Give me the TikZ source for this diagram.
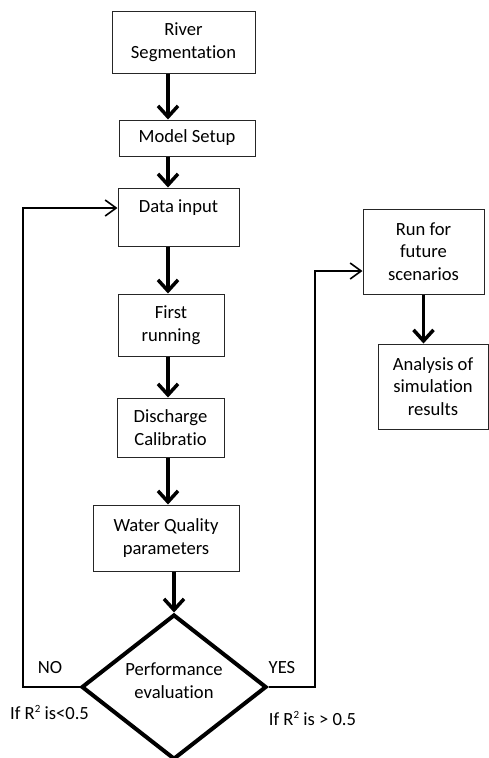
\documentclass[tikz,border=0pt]{standalone}
\usepackage{fontspec}
\setmainfont[Ligatures=NoCommon]{Carlito}
\usetikzlibrary{arrows.meta,shapes.geometric}
\newcommand{\sqr}{\raisebox{7pt}{\fontsize{11}{11}\selectfont 2}}
\tikzset{
  stepbox/.style={draw=black!85,line width=1pt,rectangle,align=center,inner sep=0pt,font=\fontsize{18.6}{22.5}\selectfont},
  decide/.style={draw,diamond,line width=4pt,align=center,inner sep=0pt,minimum width=185pt,minimum height=141pt,font=\fontsize{18.6}{22.5}\selectfont},
  lab/.style={inner sep=0pt,font=\fontsize{18.6}{22.5}\selectfont},
  flow/.style={-{Straight Barb[length=11pt,width=20pt]},line width=3.5pt},
  back/.style={-{Straight Barb[length=11pt,width=16pt]},line width=1.6pt}
}

\begin{document}
\begin{tikzpicture}[x=1pt,y=-1pt]
\useasboundingbox (0,0) rectangle (488,758);

% main column
\node[stepbox,minimum width=143pt,minimum height=62pt] (river) at (183.5,42) {River\\Segmentation};
\node[stepbox,minimum width=136pt,minimum height=36pt] (model) at (187,138) {Model Setup};
\node[stepbox,minimum width=121pt,minimum height=58pt] (datain) at (178.5,217) {Data input\\~};
\node[stepbox,minimum width=106pt,minimum height=62pt] (first) at (171,325) {First\\running};
\node[stepbox,minimum width=107pt,minimum height=59pt] (disch) at (170.5,427.5) {Discharge\\Calibratio};
\node[stepbox,minimum width=146pt,minimum height=66pt] (wq) at (166,538) {Water Quality\\parameters};
\node[decide] (perf) at (174,687) {Performance\\evaluation\\[-10pt]~};

% right column
\node[stepbox,minimum width=121pt,minimum height=85pt] (run) at (423.5,251.5) {Run for\\future\\scenarios};
\node[stepbox,minimum width=110pt,minimum height=85pt] (anal) at (433,386.5) {Analysis of\\simulation\\results};

% labels
\node[lab] (no) at (50,668) {NO};
\node[lab] (yes) at (282,668) {YES};
\node[lab] (ifno) at (49.5,712) {If R\sqr{} is<0.5};
\node[lab] (ifyes) at (312.5,718) {If R\sqr{} is > 0.5};

\coordinate (spine) at (168,0);
\coordinate (noturn) at (23,687);
\coordinate (yesturn) at (315,687);

\draw[flow] (river.south -| spine) -- (model.north -| spine);
\draw[flow] (model.south -| spine) -- (datain.north -| spine);
\draw[flow] (datain.south -| spine) -- (first.north -| spine);
\draw[flow] (first.south -| spine) -- (disch.north -| spine);
\draw[flow] (disch.south -| spine) -- (wq.north -| spine);
\draw[flow] (wq.south -| perf) -- (perf.north);
\draw[flow] (run.south) -- (run.south |- anal.north);

\draw[back] (perf.west) -- (noturn) |- ([yshift=9pt]datain.west);
\draw[back] (perf.east) -- (yesturn) |- ([yshift=-19.5pt]run.west);

\end{tikzpicture}
\end{document}
